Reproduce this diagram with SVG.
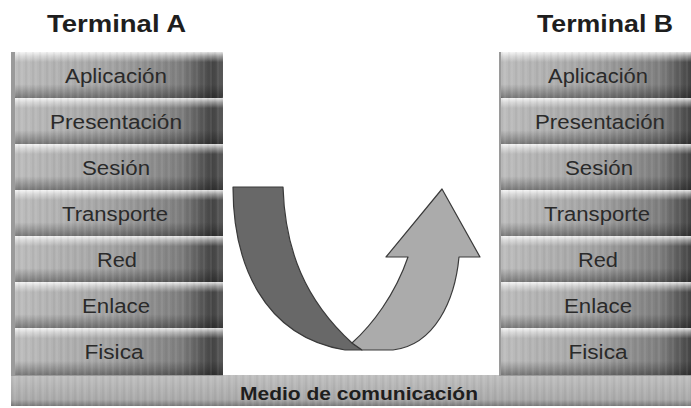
<svg xmlns="http://www.w3.org/2000/svg" width="691" height="408" viewBox="0 0 691 408">
<style>
.title{font-family:"Liberation Sans",Arial,sans-serif;font-weight:bold;font-size:24px;fill:#1e1e1e;text-anchor:middle}
.lbl{font-family:"Liberation Sans",Arial,sans-serif;font-size:20px;fill:#2a2a2a;text-anchor:middle}
.medio{font-family:"Liberation Sans",Arial,sans-serif;font-weight:bold;font-size:19px;fill:#1e1e1e;text-anchor:middle}
.body{fill:url(#hg)}
.shade{fill:url(#vg)}
.stripes{fill:url(#stripe)}
</style>
<defs>
<linearGradient id="hg" x1="0" y1="0" x2="1" y2="0">
<stop offset="0" stop-color="#bdbdbd"/>
<stop offset="0.45" stop-color="#a4a4a4"/>
<stop offset="0.8" stop-color="#7e7e7e"/>
<stop offset="0.95" stop-color="#444444"/>
<stop offset="1" stop-color="#5c5c5c"/>
</linearGradient>
<linearGradient id="vg" x1="0" y1="0" x2="0" y2="1">
<stop offset="0" stop-color="#ffffff" stop-opacity="0.85"/>
<stop offset="0.09" stop-color="#ffffff" stop-opacity="0.45"/>
<stop offset="0.22" stop-color="#ffffff" stop-opacity="0"/>
<stop offset="0.7" stop-color="#000000" stop-opacity="0"/>
<stop offset="1" stop-color="#000000" stop-opacity="0.35"/>
</linearGradient>
<linearGradient id="bar" x1="0" y1="0" x2="0" y2="1">
<stop offset="0" stop-color="#c0c0c0"/>
<stop offset="0.8" stop-color="#a9a9a9"/>
<stop offset="1" stop-color="#7a7a7a"/>
</linearGradient>
<pattern id="stripe" width="7" height="10" patternUnits="userSpaceOnUse">
<rect x="0" y="0" width="2" height="10" fill="#ffffff" fill-opacity="0.06"/>
<rect x="4" y="0" width="2" height="10" fill="#000000" fill-opacity="0.03"/>
</pattern>
</defs>

<rect x="0" y="0" width="691" height="408" fill="#ffffff"/>

<g id="titles">
<text class="title" x="116.5" y="32" textLength="139" lengthAdjust="spacingAndGlyphs">Terminal A</text>
<text class="title" x="605" y="32" textLength="136" lengthAdjust="spacingAndGlyphs">Terminal B</text>
</g>

<g id="medio">
<rect x="11" y="375" width="680" height="31" fill="url(#bar)"/>
<rect class="stripes" x="11" y="375" width="680" height="31"/>
<text class="medio" x="359" y="400" textLength="238" lengthAdjust="spacingAndGlyphs">Medio de comunicación</text>
</g>

<g id="terminalA">
<rect x="11" y="52" width="212" height="324" fill="#9a9a9a"/>
<g id="a-aplicacion"><rect class="body" x="15" y="52" width="208" height="46" rx="2"/><rect class="shade" x="15" y="52" width="208" height="46"/><rect class="stripes" x="15" y="52" width="208" height="46"/><text class="lbl" x="116" y="83" textLength="102" lengthAdjust="spacingAndGlyphs">Aplicación</text></g>
<g id="a-presentacion"><rect class="body" x="15" y="98" width="208" height="46"/><rect class="shade" x="15" y="98" width="208" height="46"/><rect class="stripes" x="15" y="98" width="208" height="46"/><text class="lbl" x="116" y="129" textLength="132" lengthAdjust="spacingAndGlyphs">Presentación</text></g>
<g id="a-sesion"><rect class="body" x="15" y="144" width="208" height="46"/><rect class="shade" x="15" y="144" width="208" height="46"/><rect class="stripes" x="15" y="144" width="208" height="46"/><text class="lbl" x="116" y="175" textLength="68" lengthAdjust="spacingAndGlyphs">Sesión</text></g>
<g id="a-transporte"><rect class="body" x="15" y="190" width="208" height="46"/><rect class="shade" x="15" y="190" width="208" height="46"/><rect class="stripes" x="15" y="190" width="208" height="46"/><text class="lbl" x="115" y="221" textLength="106" lengthAdjust="spacingAndGlyphs">Transporte</text></g>
<g id="a-red"><rect class="body" x="15" y="236" width="208" height="46"/><rect class="shade" x="15" y="236" width="208" height="46"/><rect class="stripes" x="15" y="236" width="208" height="46"/><text class="lbl" x="117" y="267" textLength="40" lengthAdjust="spacingAndGlyphs">Red</text></g>
<g id="a-enlace"><rect class="body" x="15" y="282" width="208" height="46"/><rect class="shade" x="15" y="282" width="208" height="46"/><rect class="stripes" x="15" y="282" width="208" height="46"/><text class="lbl" x="116" y="313" textLength="68" lengthAdjust="spacingAndGlyphs">Enlace</text></g>
<g id="a-fisica"><rect class="body" x="15" y="328" width="208" height="47"/><rect class="shade" x="15" y="328" width="208" height="47"/><rect class="stripes" x="15" y="328" width="208" height="47"/><text class="lbl" x="114" y="359" textLength="59" lengthAdjust="spacingAndGlyphs">Fisica</text></g>
</g>

<g id="terminalB">
<rect x="499" y="52" width="192" height="324" fill="#9a9a9a"/>
<g id="b-aplicacion"><rect class="body" x="501" y="52" width="200" height="46" rx="2"/><rect class="shade" x="501" y="52" width="200" height="46"/><rect class="stripes" x="501" y="52" width="200" height="46"/><text class="lbl" x="598" y="83" textLength="100" lengthAdjust="spacingAndGlyphs">Aplicación</text></g>
<g id="b-presentacion"><rect class="body" x="501" y="98" width="200" height="46"/><rect class="shade" x="501" y="98" width="200" height="46"/><rect class="stripes" x="501" y="98" width="200" height="46"/><text class="lbl" x="600" y="129" textLength="130" lengthAdjust="spacingAndGlyphs">Presentación</text></g>
<g id="b-sesion"><rect class="body" x="501" y="144" width="200" height="46"/><rect class="shade" x="501" y="144" width="200" height="46"/><rect class="stripes" x="501" y="144" width="200" height="46"/><text class="lbl" x="599" y="175" textLength="68" lengthAdjust="spacingAndGlyphs">Sesión</text></g>
<g id="b-transporte"><rect class="body" x="501" y="190" width="200" height="46"/><rect class="shade" x="501" y="190" width="200" height="46"/><rect class="stripes" x="501" y="190" width="200" height="46"/><text class="lbl" x="597" y="221" textLength="106" lengthAdjust="spacingAndGlyphs">Transporte</text></g>
<g id="b-red"><rect class="body" x="501" y="236" width="200" height="46"/><rect class="shade" x="501" y="236" width="200" height="46"/><rect class="stripes" x="501" y="236" width="200" height="46"/><text class="lbl" x="598" y="267" textLength="40" lengthAdjust="spacingAndGlyphs">Red</text></g>
<g id="b-enlace"><rect class="body" x="501" y="282" width="200" height="46"/><rect class="shade" x="501" y="282" width="200" height="46"/><rect class="stripes" x="501" y="282" width="200" height="46"/><text class="lbl" x="598" y="313" textLength="68" lengthAdjust="spacingAndGlyphs">Enlace</text></g>
<g id="b-fisica"><rect class="body" x="501" y="328" width="200" height="47"/><rect class="shade" x="501" y="328" width="200" height="47"/><rect class="stripes" x="501" y="328" width="200" height="47"/><text class="lbl" x="598" y="359" textLength="59" lengthAdjust="spacingAndGlyphs">Fisica</text></g>
</g>

<g id="connectors">
<path d="M233,187 L283,187 C285,250 305,300 352,343 L362,350 L345,350 C262,336 233,262 233,187 Z" fill="#686868" stroke="#3a3a3a" stroke-width="1.2" stroke-linejoin="round"/>
<path d="M352,343 C372,325 395,295 408,257 L386,257 L442,189 L480,257 L459,257 C455,300 435,345 393,350 L362,350 Z" fill="#ababab" stroke="#3a3a3a" stroke-width="1.2" stroke-linejoin="round"/>
</g>
</svg>
